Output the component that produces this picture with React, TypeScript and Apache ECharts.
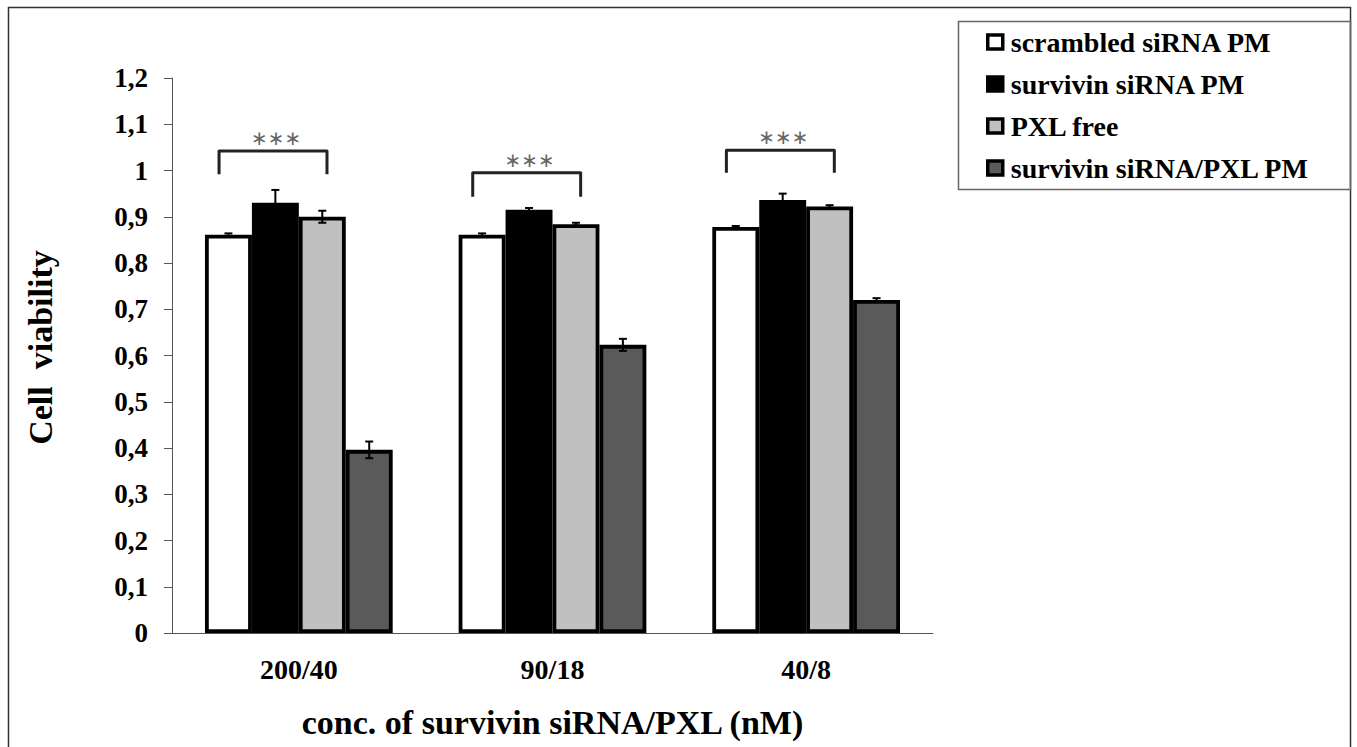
import React, { useEffect, useRef } from "react";
import * as echarts from "echarts";

const categories = ["200/40", "90/18", "40/8"];
const seriesNames = ["scrambled siRNA PM", "survivin siRNA PM", "PXL free", "survivin siRNA/PXL PM"];
const scrambled = [0.861, 0.861, 0.878];
const survivin = [0.93, 0.915, 0.936];
const pxlFree = [0.9, 0.884, 0.922];
const combo = [0.396, 0.623, 0.72];
const scrambledErr = [0.003, 0.003, 0.002];
const survivinErr = [0.028, 0.004, 0.014];
const pxlFreeErr = [0.013, 0.003, 0.003];
const comboErr = [0.018, 0.013, 0.004];
const bracketTop = [1.042, 0.995, 1.044];
const bracketLeg = [0.992, 0.943, 0.995];
const yTicks = { min: 0, max: 1.2, interval: 0.1 };

const colors = ["#ffffff", "#000000", "#c0c0c0", "#5a5a5a"];
const FONT = "'Liberation Serif', 'Times New Roman', serif";
const CAT_GAP = 0.26;

export default function App() {
  const ref = useRef<HTMLDivElement>(null);
  useEffect(() => {
    document.body.style.margin = "0";
    const chart = echarts.init(ref.current!, null, { renderer: "svg" });
    const values = [scrambled, survivin, pxlFree, combo];
    const errs = [scrambledErr, survivinErr, pxlFreeErr, comboErr];

    const barSeries = values.map((vals, i) => ({
      name: seriesNames[i],
      type: "bar",
      data: vals,
      barGap: "0%",
      barCategoryGap: CAT_GAP * 100 + "%",
      itemStyle: { color: colors[i], borderColor: "#000", borderWidth: 3.8 },
      z: 2,
    }));

    const errSeries = errs.map((err, i) => ({
      type: "custom",
      name: "err" + i,
      z: 5,
      data: err.map((e, c) => [c, values[i][c], e]),
      renderItem: (params: any, api: any) => {
        const c = api.value(0);
        const v = api.value(1);
        const e = api.value(2);
        const band = api.size([1, 0])[0];
        const bw = (band * (1 - CAT_GAP)) / 4;
        const x = api.coord([c, 0])[0] + (i - 1.5) * bw;
        const yT = api.coord([c, v + e])[1];
        const yB = api.coord([c, v - e])[1];
        const cap = 4;
        const st = { stroke: "#000", lineWidth: 2 };
        return {
          type: "group",
          children: [
            { type: "line", shape: { x1: x, y1: yT, x2: x, y2: yB }, style: st },
            { type: "line", shape: { x1: x - cap, y1: yT, x2: x + cap, y2: yT }, style: st },
            { type: "line", shape: { x1: x - cap, y1: yB, x2: x + cap, y2: yB }, style: st },
          ],
        };
      },
    }));

    const bracketSeries = {
      type: "custom",
      name: "brackets",
      z: 6,
      data: bracketTop.map((t, c) => [c, t, bracketLeg[c]]),
      renderItem: (params: any, api: any) => {
        const c = api.value(0);
        const t = api.value(1);
        const l = api.value(2);
        const band = api.size([1, 0])[0];
        const bw = (band * (1 - CAT_GAP)) / 4;
        const cx = api.coord([c, 0])[0];
        const xL = cx - 1.7 * bw;
        const xR = cx + 0.6 * bw;
        const yT = api.coord([c, t])[1];
        const yL = api.coord([c, l])[1];
        return {
          type: "group",
          children: [
            {
              type: "polyline",
              shape: { points: [[xL, yL], [xL, yT], [xR, yT], [xR, yL]] },
              style: { stroke: "#222", lineWidth: 3, fill: null, lineJoin: "round" },
            },
            {
              type: "text",
              x: (xL + xR) / 2 + 3,
              y: yT - 3,
              style: {
                text: "∗∗∗",
                fill: "#666",
                font: "20px 'DejaVu Sans'",
                align: "center",
                verticalAlign: "bottom",
              },
            },
          ],
        };
      },
    };

    chart.setOption({
      animation: false,
      backgroundColor: "#fff",
      textStyle: { fontFamily: FONT },
      grid: { left: 172, right: 424, top: 78, bottom: 114 },
      legend: {
        data: seriesNames,
        orient: "vertical",
        left: 958,
        top: 22,
        padding: [6, 20, 6, 28],
        itemGap: 14,
        itemWidth: 15,
        itemHeight: 14,
        icon: "rect",
        itemStyle: { borderColor: "#000", borderWidth: 3.5 },
        textStyle: { fontFamily: FONT, fontWeight: "bold", fontSize: 28, color: "#000", padding: [0, 0, 0, 3] },
      },
      xAxis: {
        type: "category",
        data: categories,
        name: "conc. of survivin siRNA/PXL (nM)",
        nameLocation: "middle",
        nameGap: 72,
        nameTextStyle: { fontFamily: FONT, fontWeight: "bold", fontSize: 34, color: "#000" },
        axisLine: { lineStyle: { color: "#555", width: 1 } },
        axisTick: { length: 8, lineStyle: { color: "#555" } },
        axisLabel: { margin: 22, fontFamily: FONT, fontWeight: "bold", fontSize: 28, color: "#000" },
      },
      yAxis: {
        type: "value",
        min: yTicks.min,
        max: yTicks.max,
        interval: yTicks.interval,
        name: "Cell  viability",
        nameLocation: "middle",
        nameGap: 115,
        nameTextStyle: {
          fontFamily: FONT,
          fontWeight: "bold",
          fontSize: 34,
          color: "#000",
          padding: [0, 0, 0, 16],
        },
        splitLine: { show: false },
        axisLine: { show: true, lineStyle: { color: "#555", width: 1 } },
        axisTick: { show: true, length: 8, lineStyle: { color: "#555" } },
        axisLabel: {
          margin: 24,
          fontFamily: FONT,
          fontWeight: "bold",
          fontSize: 27,
          color: "#000",
          formatter: (v: number) => String(Math.round(v * 10) / 10).replace(".", ","),
        },
      },
      graphic: [
        {
          type: "rect",
          shape: { x: 8.5, y: 7.5, width: 1342, height: 800 },
          style: { fill: null, stroke: "#333", lineWidth: 1.5 },
          silent: true,
        },
        {
          type: "rect",
          shape: { x: 958.5, y: 21.5, width: 392, height: 168 },
          style: { fill: null, stroke: "#666", lineWidth: 1.5 },
          silent: true,
        },
      ],
      series: [...barSeries, ...errSeries, bracketSeries],
    });
    return () => chart.dispose();
  }, []);
  return <div ref={ref} style={{ width: 1357, height: 747 }} />;
}
